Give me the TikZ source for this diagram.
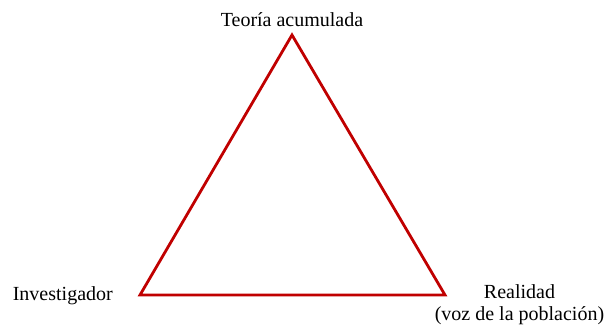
\documentclass[tikz,border=0pt]{standalone}
\usepackage{fontspec}
\setmainfont{Liberation Serif}
\usepackage{tikz}
\usetikzlibrary{positioning}
\definecolor{rojo}{RGB}{192,0,0}

\begin{document}
\begin{tikzpicture}[x=1pt,y=1pt]
    \tikzstyle{lado}=[draw=rojo,line width=2.8pt,line join=miter]
    \tikzstyle{etiqueta}=[inner sep=0pt,font=\fontsize{20}{22}\selectfont]
    \useasboundingbox (0,0) rectangle (610,327);
    % vertices
    \coordinate (teo) at (292,292);
    \coordinate (inv) at (140,32);
    \coordinate (rea) at (445,32);
    \draw[lado] (teo) -- (inv) -- (rea) -- cycle;
    % etiquetas
    \node[etiqueta,anchor=base] (teolbl) at ([yshift=8.5pt]teo) {Teoría acumulada};
    \node[etiqueta,anchor=base east] (invlbl) at ([xshift=-27pt,yshift=-5.5pt]inv) {Investigador};
    \node[etiqueta,anchor=north,align=center] (realbl) at ([xshift=74.5pt,yshift=10.5pt]rea)
        {Realidad\\(voz de la población)};
\end{tikzpicture}
\end{document}
